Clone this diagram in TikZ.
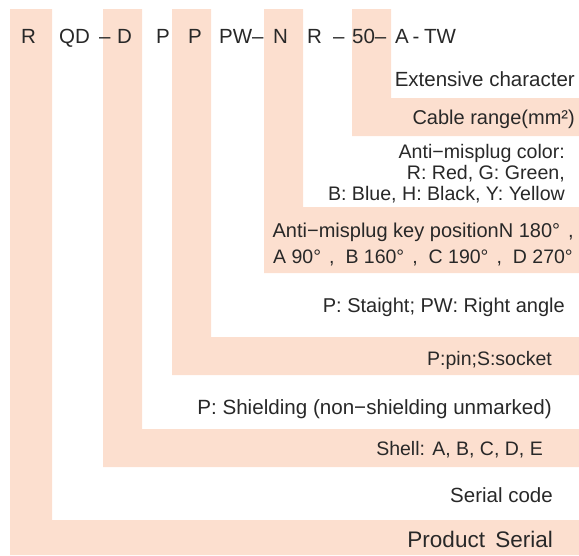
\documentclass[tikz,border=0pt]{standalone}
\usepackage{fontspec}
\setmainfont{Liberation Sans}
\definecolor{peach}{RGB}{252,223,207}
\definecolor{txt}{RGB}{40,40,40}
\newcommand{\fwc}{\hspace{8pt},\hspace{11pt}}
\begin{document}
\begin{tikzpicture}[x=1pt,y=-1pt,
  band/.style={fill=peach,draw=none},
  code/.style={anchor=base west,inner sep=0pt,text=txt,font=\fontsize{20.5}{24}\selectfont},
  desc/.style={anchor=base east,inner sep=0pt,text=txt,font=\fontsize{#1}{24}\selectfont},
  desc/.default=19.5]
\useasboundingbox (0,0) rectangle (579,555);
% L-shaped peach bands
\fill[band] (10,9) -- (52,9) -- (52,520) -- (579,520) -- (579,555) -- (10,555) -- cycle;
\fill[band] (103,9) -- (142,9) -- (142,429) -- (579,429) -- (579,467) -- (103,467) -- cycle;
\fill[band] (172,9) -- (211,9) -- (211,337) -- (579,337) -- (579,375) -- (172,375) -- cycle;
\fill[band] (264,9) -- (303,9) -- (303,207) -- (579,207) -- (579,273) -- (264,273) -- cycle;
\fill[band] (352,9) -- (391,9) -- (391,98) -- (579,98) -- (579,136) -- (352,136) -- cycle;
% code row
\node[code] (c1) at (21,43) {R};
\node[code] (c2) at (59,43) {QD};
\node[code] (c3) at (99,43) {–};
\node[code] (c4) at (117,43) {D};
\node[code] (c5) at (156,43) {P};
\node[code] (c6) at (188,43) {P};
\node[code] (c7) at (219,43) {PW–};
\node[code] (c8) at (273,43) {N};
\node[code] (c9) at (307,43) {R};
\node[code] (c10) at (333,43) {–};
\node[code] (c11) at (352,43) {50–};
\node[code] (c12) at (395,43) {A};
\node[code] (c13) at (412.5,43) {-};
\node[code] (c14) at (424,43) {TW};
% descriptions
\node[desc=20.5] (ext) at (575,86.5) {Extensive character};
\node[desc=20] (cable) at (575,124.5) {Cable range(mm²)};
\node[desc=19.6] (col1) at (565,158) {Anti−misplug color:};
\node[desc=19.6] (col2) at (565,179.5) {R: Red, G: Green,};
\node[desc=19.6] (col3) at (565,200.5) {B: Blue, H: Black, Y: Yellow};
\node[desc=20] (key1) at (574,237.5) {Anti−misplug key positionN 180°\hspace{8pt},};
\node[desc] (key2) at (573,263) {A 90°\fwc B 160°\fwc C 190°\fwc D 270°};
\node[desc=20] (dir) at (565,312) {P: Staight; PW: Right angle};
\node[desc] (pin) at (552,365) {P:pin;S:socket};
\node[desc=20.6] (shield) at (552,414) {P: Shielding (non−shielding unmarked)};
\node[desc] (shell) at (543,455) {Shell: A, B, C, D, E};
\node[desc=20.5] (scode) at (553,502) {Serial code};
\node[desc=22.5] (prod) at (553,547) {Product\hspace{4pt} Serial};
\end{tikzpicture}
\end{document}
